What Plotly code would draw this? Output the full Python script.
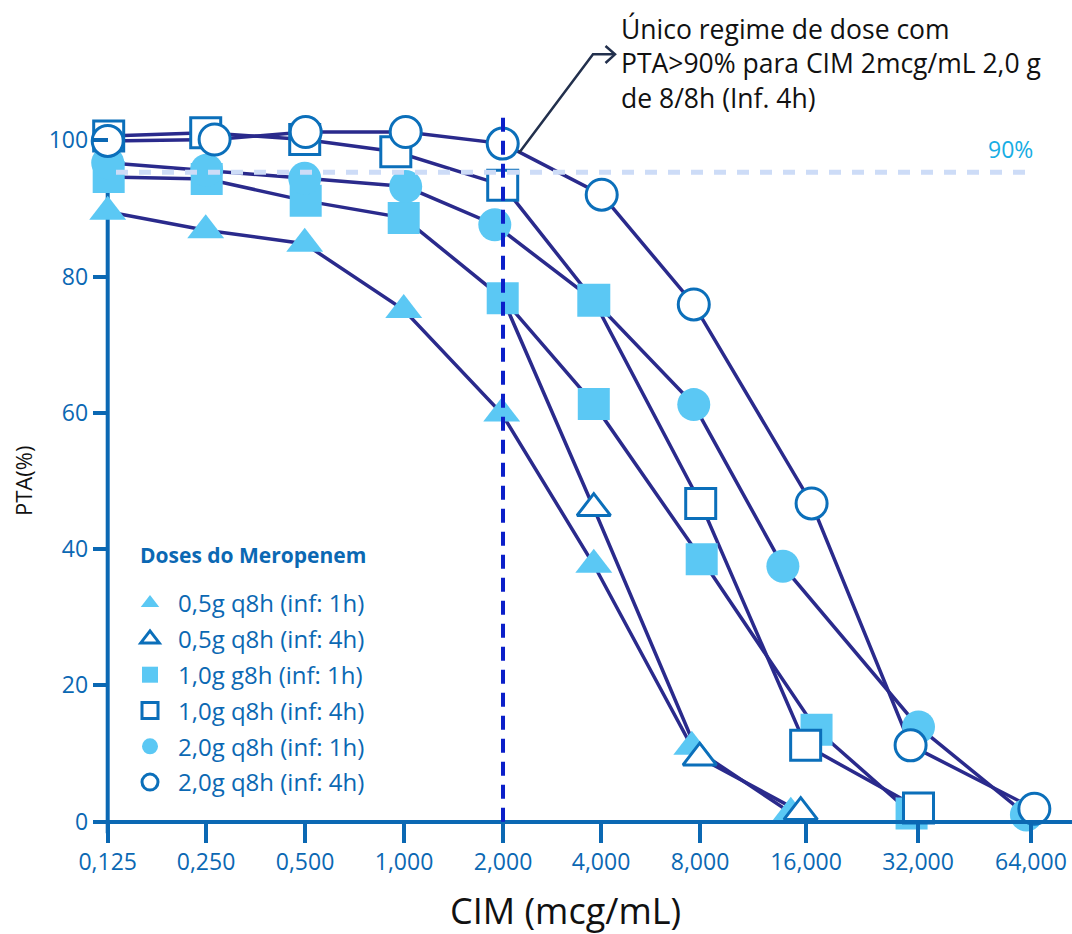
import plotly.graph_objects as go

# ---------------- data ----------------
mic_labels = ["0,125", "0,250", "0,500", "1,000", "2,000",
              "4,000", "8,000", "16,000", "32,000", "64,000"]

series_names = ["0,5g q8h (inf: 1h)", "0,5g q8h (inf: 4h)", "1,0g g8h (inf: 1h)",
                "1,0g q8h (inf: 4h)", "2,0g q8h (inf: 1h)", "2,0g q8h (inf: 4h)"]

# x = position along the MIC axis (category units, as placed in the picture)
x_05_1h = [0.00, 0.99, 1.99, 2.99, 3.98, 4.91, 5.90, 6.90]
y_05_1h = [89.5, 86.8, 84.8, 75.1, 59.9, 37.7, 11.0, 1.3]

x_05_4h = [3.99, 4.91, 5.98, 7.00]
y_05_4h = [76.8, 46.0, 9.4, 1.4]

x_10_1h = [0.01, 1.00, 2.00, 2.99, 3.99, 4.91, 6.00, 7.16, 8.12]
y_10_1h = [94.6, 94.3, 91.1, 88.6, 76.8, 61.3, 38.5, 13.5, 1.2]

x_10_4h = [0.01, 0.99, 1.99, 2.91, 3.99, 4.91, 5.99, 7.05, 8.19]
y_10_4h = [100.6, 101.1, 100.1, 98.3, 93.4, 76.5, 46.7, 11.2, 2.0]

x_20_1h = [0.00, 1.00, 1.99, 3.01, 3.91, 4.91, 5.92, 6.82, 8.19, 9.28]
y_20_1h = [96.7, 95.6, 94.4, 93.2, 87.6, 76.5, 61.2, 37.5, 13.9, 1.0]

x_20_4h = [0.00, 1.08, 2.00, 3.01, 3.99, 4.99, 5.92, 7.11, 8.11, 9.36]
y_20_4h = [99.9, 100.1, 101.2, 101.2, 99.5, 92.0, 75.9, 46.7, 11.2, 1.9]

y_ticks = [0, 20, 40, 60, 80, 100]
threshold_value = 95.3        # dashed "90%" reference line as drawn
threshold_label = "90%"
highlight_mic = "2,000"

callout_text = ("Único regime de dose com<br>"
                "PTA>90% para CIM 2mcg/mL 2,0 g<br>"
                "de 8/8h (Inf. 4h)")

# ---------------- layout geometry / styles ----------------
W, H = 1072, 934
L, R, T, B = 97, 1072, 0, 845           # plot area in pixels
X0_PX, X_UNIT = 107.7, 99.0             # pixel of first MIC, pixels per category
Y0_PX, Y_UNIT = 821.7, 6.815            # pixel of PTA 0, pixels per %
tick_pos = [0, 0.993, 1.993, 2.993, 3.993, 4.983, 5.983, 7.054, 8.185, 9.326]

x_range = [(L - X0_PX) / X_UNIT, (R - X0_PX) / X_UNIT]
y_range = [(Y0_PX - B) / Y_UNIT, (Y0_PX - T) / Y_UNIT]


def pxx(px):
    return (px - L) / (R - L)


def pxy(py):
    return (B - py) / (B - T)


FONT = "Open Sans"
AXIS_BLUE = "#0b68b3"
LINE_NAVY = "#2a2a8c"
FILL_CYAN = "#5bc8f4"
OPEN_EDGE = "#0b6fba"
VLINE = "#0b1fc9"
HLINE = "#cddcf7"
LABEL_CYAN = "#17ade4"
ARROW = "#22304d"

series = [
    dict(name=series_names[0], x=x_05_1h, y=y_05_1h, sym="triangle-up", filled=True, hidden=[]),
    dict(name=series_names[1], x=x_05_4h, y=y_05_4h, sym="triangle-up-open", filled=False, hidden=[0]),
    dict(name=series_names[2], x=x_10_1h, y=y_10_1h, sym="square", filled=True, hidden=[]),
    dict(name=series_names[3], x=x_10_4h, y=y_10_4h, sym="square-open", filled=False, hidden=[5]),
    dict(name=series_names[4], x=x_20_1h, y=y_20_1h, sym="circle", filled=True, hidden=[]),
    dict(name=series_names[5], x=x_20_4h, y=y_20_4h, sym="circle-open", filled=False, hidden=[]),
]

fig = go.Figure()

# lines first (under all markers)
for s in series:
    fig.add_trace(go.Scatter(x=s["x"], y=s["y"], mode="lines",
                             line=dict(color=LINE_NAVY, width=3.5),
                             showlegend=False, hoverinfo="skip"))

sizes = {"triangle-up": 32, "triangle-up-open": 29, "square": 32, "square-open": 30,
         "circle": 33, "circle-open": 31}

draw_order = [0, 2, 4, 1, 3, 5]
for rank, i in enumerate(draw_order):
    s = series[i]
    idx = [k for k in range(len(s["x"])) if k not in s["hidden"]]
    xs = [s["x"][k] for k in idx]
    ys = [s["y"][k] for k in idx]
    if s["filled"]:
        symbol = [s["sym"]] * len(xs)
        if i == 4:  # the 4,000 point of this curve is drawn as a square in the source
            symbol[idx.index(5)] = "square"
        marker = dict(symbol=symbol, size=sizes[s["sym"]], color=FILL_CYAN,
                      line=dict(width=0))
    else:
        marker = dict(symbol=s["sym"].replace("-open", ""), size=sizes[s["sym"]],
                      color="white", line=dict(color=OPEN_EDGE, width=3))
    fig.add_trace(go.Scatter(x=xs, y=ys, mode="markers", name=s["name"],
                             legendgroup=s["name"],
                             marker=marker, cliponaxis=False, legendrank=i + 1))

highlight_x = tick_pos[mic_labels.index(highlight_mic)]

shapes = [
    # y axis line
    dict(type="line", xref="x", yref="y", x0=0, x1=0, y0=-1.7, y1=100,
         line=dict(color=AXIS_BLUE, width=4), layer="below"),
    # threshold dashed line
    dict(type="line", xref="x", yref="y", x0=(116 - X0_PX) / X_UNIT,
         x1=(1033 - X0_PX) / X_UNIT, y0=threshold_value, y1=threshold_value,
         line=dict(color=HLINE, width=5, dash="12px,11px"), layer="above"),
    # vertical dashed line at MIC 2
    dict(type="line", xref="x", yref="y", x0=highlight_x, x1=highlight_x,
         y0=0, y1=104, line=dict(color=VLINE, width=4, dash="14px,9px"), layer="above"),
    # callout arrow
    dict(type="path", xref="paper", yref="paper",
         path=f"M {pxx(519)},{pxy(153)} L {pxx(593)},{pxy(54.3)} L {pxx(615)},{pxy(54.3)}",
         line=dict(color=ARROW, width=2.5), layer="above"),
    dict(type="path", xref="paper", yref="paper",
         path=f"M {pxx(605.5)},{pxy(46)} L {pxx(615)},{pxy(54.3)} L {pxx(605.5)},{pxy(63)}",
         line=dict(color=ARROW, width=2.5), layer="above"),
]

annotations = [
    dict(text=callout_text, xref="paper", yref="paper", x=pxx(619), y=pxy(63),
         xanchor="left", yanchor="middle", align="left", showarrow=False,
         font=dict(family=FONT, size=26.5, color="#111111")),
    dict(text=threshold_label, xref="paper", yref="paper", x=pxx(1035), y=pxy(149),
         xanchor="right", yanchor="middle", showarrow=False,
         font=dict(family=FONT, size=23, color=LABEL_CYAN)),
    dict(text="CIM (mcg/mL)", xref="paper", yref="paper", x=pxx(565), y=pxy(910),
         xanchor="center", yanchor="middle", showarrow=False,
         font=dict(family=FONT, size=36, color="#111111")),
    dict(text="PTA(%)", xref="paper", yref="paper", x=pxx(23), y=pxy(481),
         xanchor="center", yanchor="middle", textangle=-90, showarrow=False,
         font=dict(family=FONT, size=22, color="#111111")),
    dict(text="<b>Doses do Meropenem</b>", xref="paper", yref="paper", x=pxx(138), y=pxy(555),
         xanchor="left", yanchor="middle", showarrow=False,
         font=dict(family=FONT, size=21, color=AXIS_BLUE)),
]

fig.update_layout(
    width=W, height=H,
    margin=dict(l=L, r=W - R, t=T, b=H - B, pad=0),
    paper_bgcolor="white", plot_bgcolor="white",
    font=dict(family=FONT, color=AXIS_BLUE),
    shapes=shapes, annotations=annotations,
    legend=dict(x=pxx(122), y=pxy(581), xanchor="left", yanchor="top",
                bgcolor="rgba(0,0,0,0)", borderwidth=0,
                font=dict(family=FONT, size=24, color=AXIS_BLUE),
                itemsizing="trace", itemwidth=46, tracegroupgap=1.6),
    xaxis=dict(range=x_range, tickmode="array", tickvals=tick_pos, ticktext=mic_labels,
               ticks="outside", ticklen=19, tickwidth=4, tickcolor=AXIS_BLUE,
               showline=True, linewidth=4, linecolor=AXIS_BLUE,
               showgrid=False, zeroline=False, anchor="free", position=pxy(Y0_PX),
               tickfont=dict(family=FONT, size=23, color=AXIS_BLUE), automargin=False),
    yaxis=dict(range=y_range, tickmode="array", tickvals=y_ticks,
               ticks="outside", ticklen=15, tickwidth=4, tickcolor=AXIS_BLUE,
               showline=False, showgrid=False, zeroline=False,
               anchor="free", position=pxx(X0_PX),
               tickfont=dict(family=FONT, size=23, color=AXIS_BLUE), automargin=False),
)

fig.write_html("out.html", config={"displayModeBar": False},
               post_script="document.body.style.margin='0';")
